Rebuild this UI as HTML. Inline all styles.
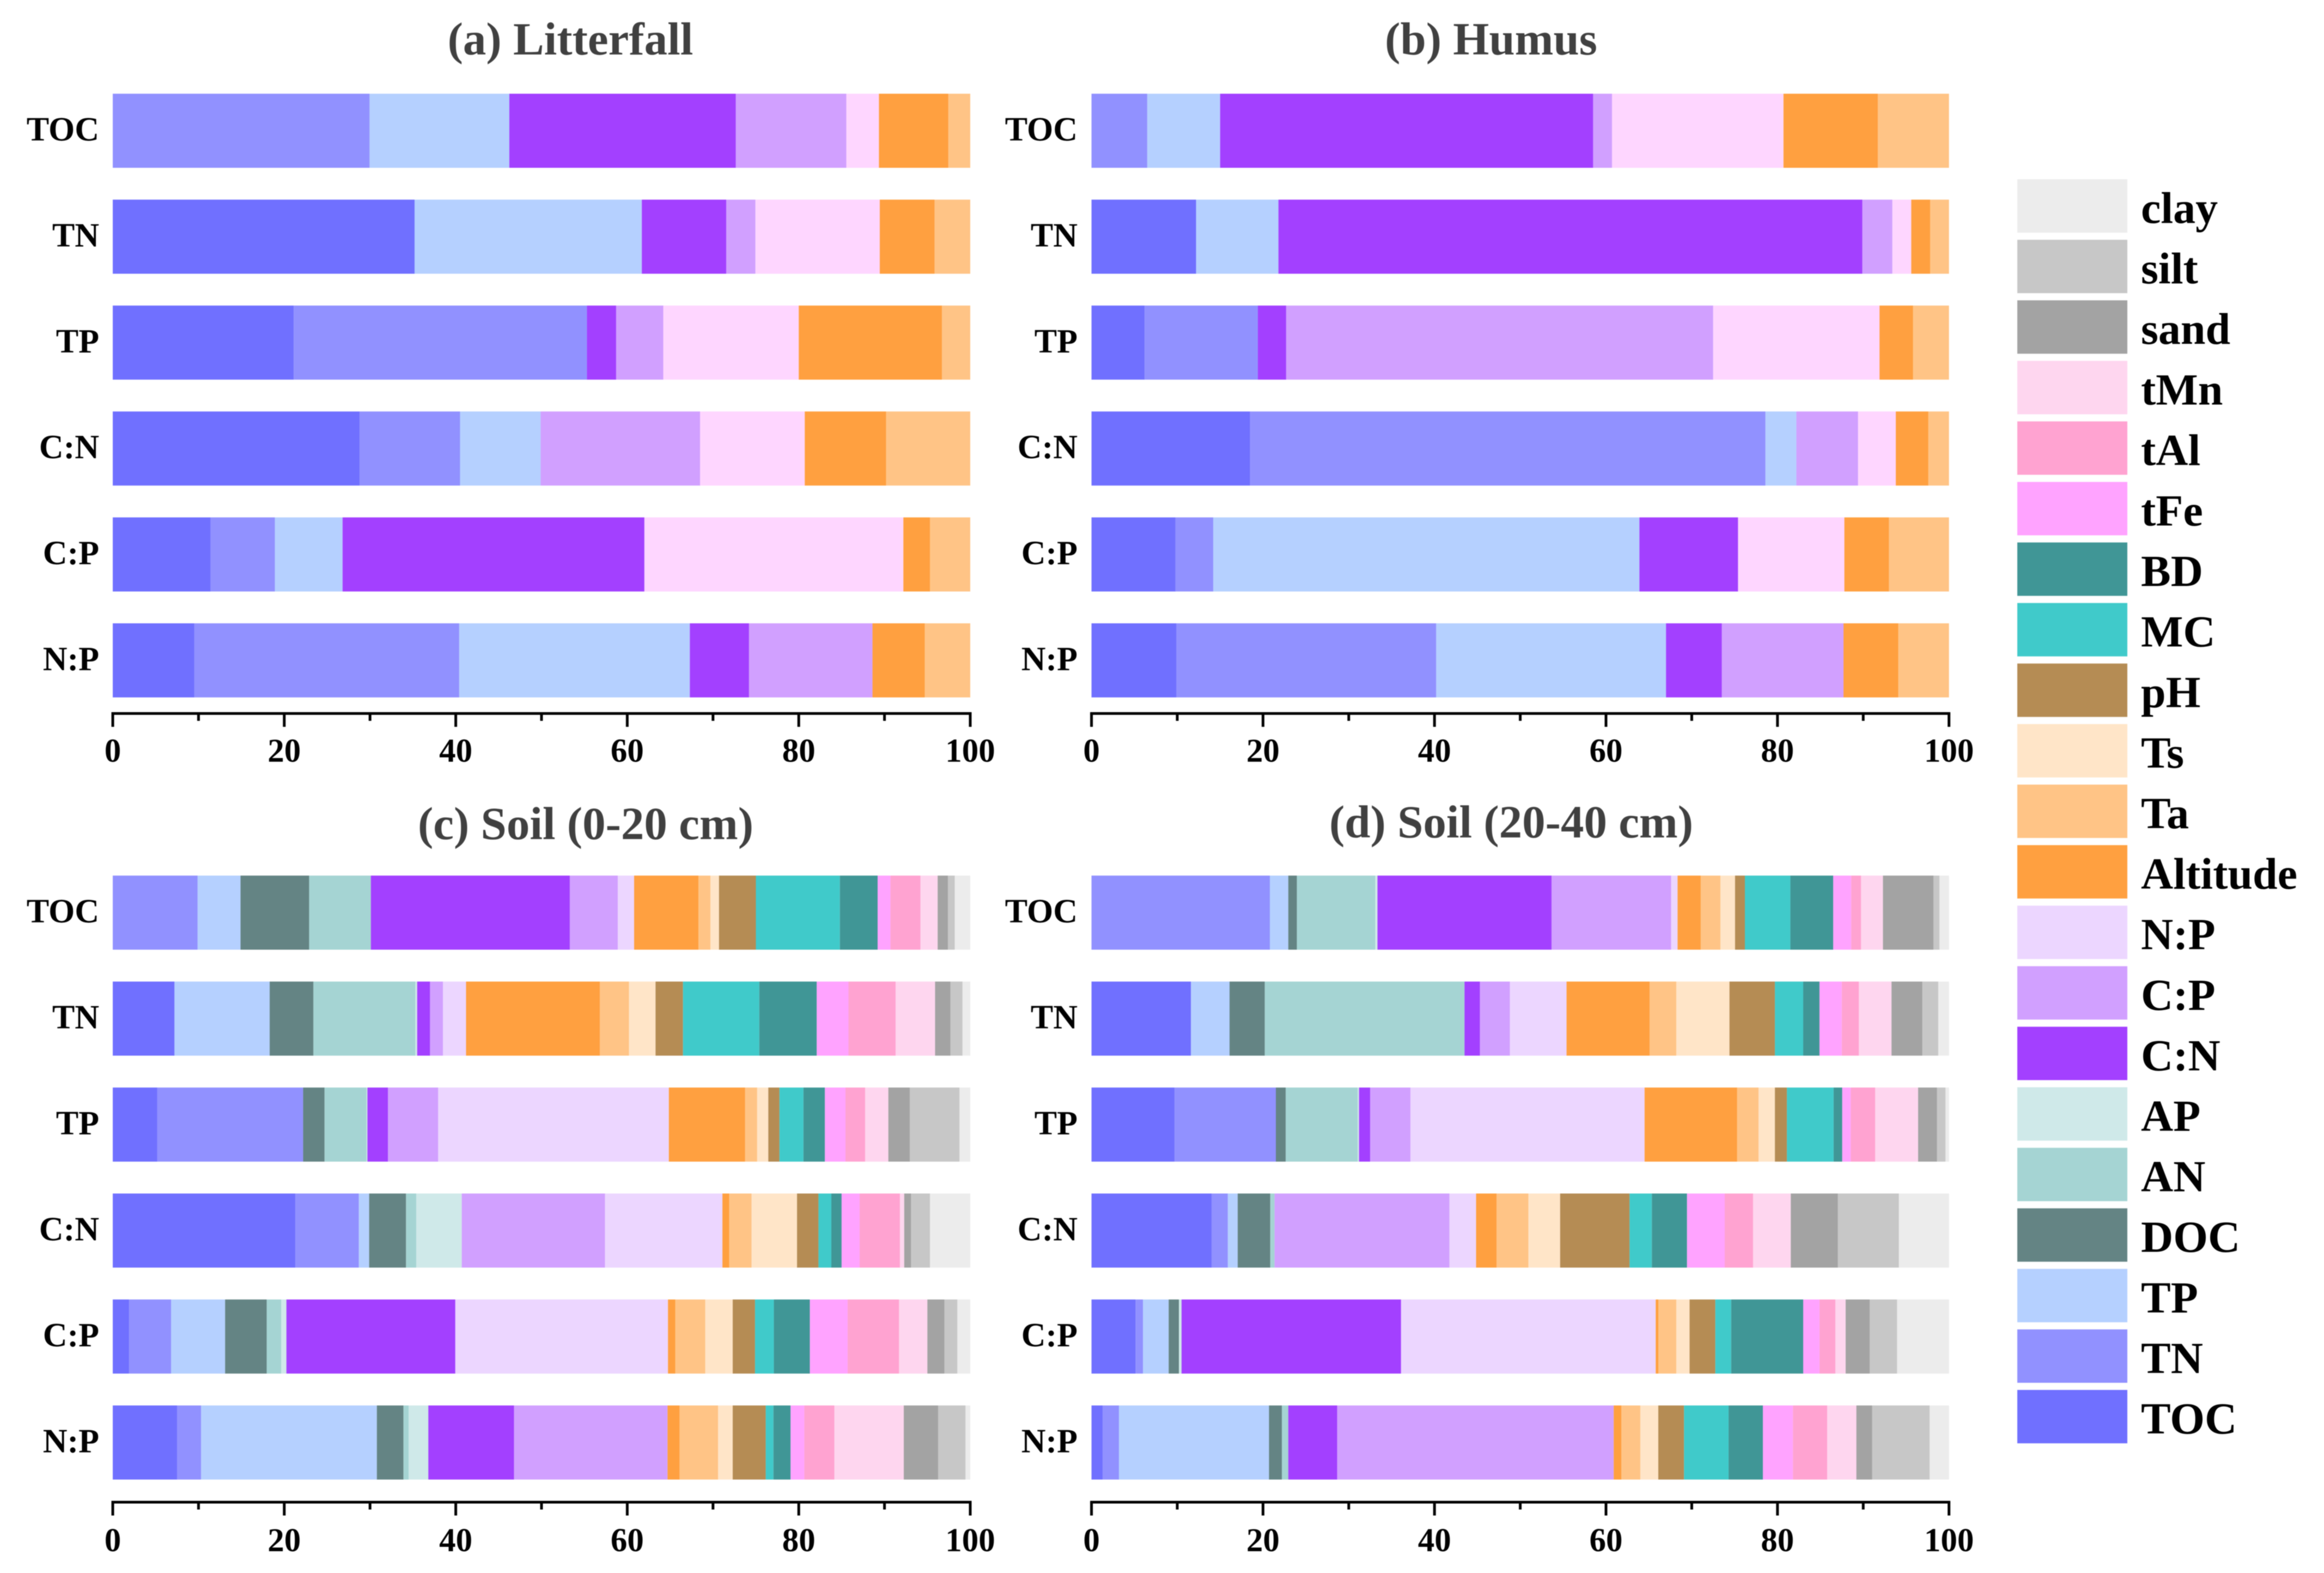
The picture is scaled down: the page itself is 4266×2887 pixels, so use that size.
<!DOCTYPE html>
<html lang="en">
<head>
<meta charset="utf-8">
<title>Stacked contribution bars</title>
<style>
html,body{margin:0;padding:0;background:#fff;}
svg{display:block;filter:blur(0.8px);}
text{font-family:"Liberation Serif","Times New Roman",serif;font-weight:bold;}
</style>
</head>
<body>
<svg id="chart" xmlns="http://www.w3.org/2000/svg" width="4266" height="2887" viewBox="0 0 4266 2887">
<rect x="-10" y="-10" width="4286" height="2907" fill="#ffffff"/>
<text x="1047" y="100" font-size="85" fill="#404040" text-anchor="middle">(a) Litterfall</text>
<text x="2737" y="100" font-size="85" fill="#404040" text-anchor="middle">(b) Humus</text>
<text x="1075" y="1540" font-size="85" fill="#404040" text-anchor="middle">(c) Soil (0-20 cm)</text>
<text x="2774" y="1537" font-size="85" fill="#404040" text-anchor="middle">(d) Soil (20-40 cm)</text>
</svg>
<script>
// Categories and series
const categories = ["TOC", "TN", "TP", "C:N", "C:P", "N:P"];
const seriesNames = ["TOC", "TN", "TP", "DOC", "AN", "AP", "C:N", "C:P", "N:P", "Altitude", "Ta", "Ts", "pH", "MC", "BD", "tFe", "tAl", "tMn", "sand", "silt", "clay"];
const xTickValues = [0, 20, 40, 60, 80, 100];
const xMinorTickValues = [10, 30, 50, 70, 90];

// Values per row, in seriesNames order
const litterTOC = [0, 29.95, 16.3, 0, 0, 0, 26.4, 12.9, 3.8, 8.1, 2.55, 0, 0, 0, 0, 0, 0, 0, 0, 0, 0];
const litterTN = [35.2, 0, 26.5, 0, 0, 0, 9.85, 3.4, 14.5, 6.4, 4.15, 0, 0, 0, 0, 0, 0, 0, 0, 0, 0];
const litterTP = [21.1, 34.2, 0, 0, 0, 0, 3.4, 5.5, 15.8, 16.7, 3.3, 0, 0, 0, 0, 0, 0, 0, 0, 0, 0];
const litterCN = [28.8, 11.7, 9.4, 0, 0, 0, 0, 18.6, 12.2, 9.5, 9.8, 0, 0, 0, 0, 0, 0, 0, 0, 0, 0];
const litterCP = [11.4, 7.5, 7.9, 0, 0, 0, 35.2, 0, 30.2, 3.1, 4.7, 0, 0, 0, 0, 0, 0, 0, 0, 0, 0];
const litterNP = [9.5, 30.9, 26.9, 0, 0, 0, 6.9, 14.4, 0, 6.1, 5.3, 0, 0, 0, 0, 0, 0, 0, 0, 0, 0];

const humusTOC = [0, 6.5, 8.5, 0, 0, 0, 43.5, 2.2, 20.0, 11.0, 8.3, 0, 0, 0, 0, 0, 0, 0, 0, 0, 0];
const humusTN = [12.2, 0, 9.6, 0, 0, 0, 68.1, 3.5, 2.2, 2.2, 2.2, 0, 0, 0, 0, 0, 0, 0, 0, 0, 0];
const humusTP = [6.2, 13.2, 0, 0, 0, 0, 3.3, 49.8, 19.4, 3.9, 4.2, 0, 0, 0, 0, 0, 0, 0, 0, 0, 0];
const humusCN = [18.5, 60.1, 3.6, 0, 0, 0, 0, 7.2, 4.4, 3.8, 2.4, 0, 0, 0, 0, 0, 0, 0, 0, 0, 0];
const humusCP = [9.8, 4.4, 49.7, 0, 0, 0, 11.5, 0, 12.4, 5.2, 7.0, 0, 0, 0, 0, 0, 0, 0, 0, 0, 0];
const humusNP = [9.9, 30.3, 26.8, 0, 0, 0, 6.5, 14.2, 0, 6.4, 5.9, 0, 0, 0, 0, 0, 0, 0, 0, 0, 0];

const soil1TOC = [0, 9.9, 5.0, 8.0, 7.2, 0, 23.2, 5.6, 1.9, 7.5, 1.4, 1.0, 4.3, 9.8, 4.4, 1.5, 3.5, 2.0, 1.2, 0.8, 1.8];
const soil1TN = [7.2, 0, 11.1, 5.1, 11.9, 0.2, 1.5, 1.5, 2.7, 15.6, 3.4, 3.1, 3.2, 8.9, 6.7, 3.7, 5.5, 4.6, 1.8, 1.4, 0.9];
const soil1TP = [5.2, 17.0, 0, 2.5, 4.9, 0.1, 2.4, 5.85, 26.9, 8.9, 1.4, 1.3, 1.3, 2.8, 2.5, 2.4, 2.3, 2.7, 2.5, 5.8, 1.25];
const soil1CN = [21.3, 7.4, 1.2, 4.3, 1.2, 5.3, 0, 16.7, 13.7, 0.8, 2.6, 5.3, 2.5, 1.5, 1.2, 2.1, 4.7, 0.5, 0.8, 2.2, 4.7];
const soil1CP = [1.9, 4.9, 6.3, 4.85, 1.7, 0.6, 19.7, 0, 24.8, 0.85, 3.5, 3.2, 2.6, 2.2, 4.2, 4.4, 6.0, 3.3, 2.0, 1.5, 1.5];
const soil1NP = [7.5, 2.8, 20.5, 3.1, 0.6, 2.3, 10.0, 17.9, 0, 1.4, 4.5, 1.7, 3.85, 0.9, 2.0, 1.6, 3.5, 8.1, 4.0, 3.2, 0.55];

const soil2TOC = [0, 20.8, 2.15, 1.0, 9.15, 0.25, 20.3, 13.95, 0.75, 2.7, 2.3, 1.7, 1.15, 5.3, 5.0, 2.1, 1.15, 2.55, 5.9, 0.7, 1.1];
const soil2TN = [11.6, 0, 4.5, 4.1, 23.3, 0, 1.8, 3.5, 6.6, 9.7, 3.1, 6.2, 5.3, 3.3, 1.9, 2.6, 2.0, 3.8, 3.6, 1.85, 1.25];
const soil2TP = [9.7, 11.8, 0, 1.15, 8.4, 0.15, 1.3, 4.7, 27.3, 10.8, 2.5, 1.9, 1.4, 5.45, 1.0, 1.0, 2.85, 5.0, 2.2, 1.0, 0.4];
const soil2CN = [14.0, 1.9, 1.15, 3.8, 0.5, 0, 0, 20.4, 3.1, 2.4, 3.7, 3.7, 8.1, 2.6, 4.1, 4.4, 3.3, 4.4, 5.5, 7.1, 5.85];
const soil2CP = [5.15, 0.85, 3.0, 1.2, 0, 0.3, 25.6, 0, 29.7, 0.3, 2.1, 1.55, 3.0, 1.85, 8.4, 1.9, 1.85, 1.2, 2.8, 3.2, 6.05];
const soil2NP = [1.3, 1.9, 17.5, 1.5, 0.75, 0, 5.7, 32.25, 0, 0.9, 2.2, 2.1, 3.0, 5.2, 4.0, 3.5, 4.0, 3.4, 1.85, 6.7, 2.25];

const litterRows = [litterTOC, litterTN, litterTP, litterCN, litterCP, litterNP];
const humusRows = [humusTOC, humusTN, humusTP, humusCN, humusCP, humusNP];
const soil1Rows = [soil1TOC, soil1TN, soil1TP, soil1CN, soil1CP, soil1NP];
const soil2Rows = [soil2TOC, soil2TN, soil2TP, soil2CN, soil2CP, soil2NP];

// Styles
const palette = {
  "TOC": "#7070ff", "TN": "#9191ff", "TP": "#b5d0ff", "DOC": "#648484", "AN": "#a5d4d3", "AP": "#cfe9e9",
  "C:N": "#a340ff", "C:P": "#d1a0ff", "N:P": "#ecd6ff", "Altitude": "#ffa040", "Ta": "#ffc486", "Ts": "#ffe5c8",
  "pH": "#b58c54", "MC": "#40caca", "BD": "#409696", "tFe": "#ffa3ff", "tAl": "#ffa3d1", "tMn": "#fed6ef",
  "sand": "#a3a3a3", "silt": "#c7c7c7", "clay": "#ececec"
};

const NS = "http://www.w3.org/2000/svg";
const svg = document.getElementById("chart");

function make(tag, attrs, parent) {
  const el = document.createElementNS(NS, tag);
  for (const k in attrs) el.setAttribute(k, attrs[k]);
  parent.appendChild(el);
  return el;
}

function drawPanel(name, rows, x0, rowTop, rowPitch, axisY, tickBaseline, labelRight, npColor) {
  const plotWidth = 1574;
  const barHeight = 136;
  const xScale = function (v) { return x0 + v / 100 * plotWidth; };
  const yScale = function (i) { return rowTop + i * rowPitch; };

  const panel = make("g", {}, svg);
  
  

  rows.forEach(function (row, r) {
    const label = make("text", { x: labelRight, y: yScale(r) + barHeight / 2 + 18, "font-size": 62, fill: "#000", "text-anchor": "end" }, panel);
    
    
    label.textContent = categories[r];

    let cum = 0;
    row.forEach(function (value, s) {
      if (value > 0) {
        const sName = seriesNames[s];
        const fill = sName === "N:P" && npColor ? npColor : palette[sName];
        const bar = make("rect", { x: xScale(cum), y: yScale(r), width: xScale(cum + value) - xScale(cum), height: barHeight, fill: fill }, panel);
        
        
      }
      cum += value;
    });
  });

  const axis = make("line", { x1: xScale(0) - 2.5, x2: xScale(100) + 2.5, y1: axisY, y2: axisY, stroke: "#000", "stroke-width": 5 }, panel);
  
  

  xMinorTickValues.forEach(function (v) {
    const t = make("line", { x1: xScale(v), x2: xScale(v), y1: axisY, y2: axisY + 13.5, stroke: "#000", "stroke-width": 5 }, panel);
    
    
  });

  xTickValues.forEach(function (v) {
    const t = make("line", { x1: xScale(v), x2: xScale(v), y1: axisY, y2: axisY + 24.5, stroke: "#000", "stroke-width": 5 }, panel);
    
    
    const l = make("text", { x: xScale(v), y: tickBaseline, "font-size": 61, fill: "#000", "text-anchor": "middle" }, panel);
    
    
    l.textContent = String(v);
  });
}

drawPanel("litterfall", litterRows, 207, 172, 194.4, 1309.5, 1398, 182, "#fed6ff");
drawPanel("humus", humusRows, 2003.6, 172, 194.4, 1309.5, 1398, 1978, "#fed6ff");
drawPanel("soil-0-20", soil1Rows, 207, 1607, 194.5, 2757, 2847, 182, null);
drawPanel("soil-20-40", soil2Rows, 2003.6, 1607, 194.5, 2757, 2847, 1978, null);

// Legend, drawn top to bottom from the last series to the first
const legendOrder = seriesNames.slice().reverse();
const legend = make("g", {}, svg);


legendOrder.forEach(function (s, i) {
  const top = 329 + i * 111.1;
  const swatch = make("rect", { x: 3703, y: top, width: 202, height: 98, fill: palette[s] }, legend);
  
  
  const label = make("text", { x: 3930, y: top + 49 + 31, "font-size": 82, fill: "#000" }, legend);
  
  
  label.textContent = s;
});
</script>
</body>
</html>
